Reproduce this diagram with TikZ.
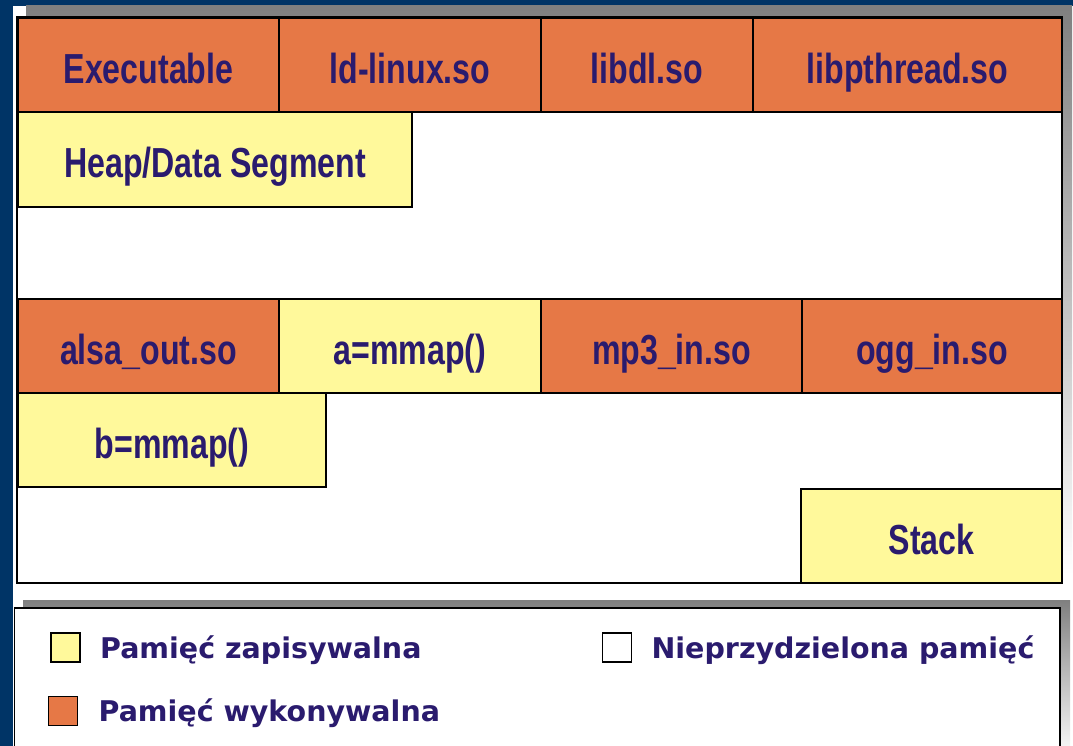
\documentclass[tikz,border=0pt]{standalone}
\usepackage{fontspec}
\usepackage{tikz}
\usetikzlibrary{positioning}

\newfontfamily\boxfont[FakeStretch=0.765]{Liberation Sans}
\newfontfamily\keyfont{DejaVu Sans}

\definecolor{slidebg}{HTML}{003466}
\definecolor{shade}{HTML}{2B2724}
\definecolor{execmem}{HTML}{E67846}
\definecolor{writemem}{HTML}{FFF99B}
\definecolor{labelink}{HTML}{2A1B6E}

\begin{document}
\begin{tikzpicture}[x=1pt, y=-1pt,
    seg/.style={draw=black, line width=2pt, anchor=north west,
        inner sep=0pt, outer sep=0pt, minimum height=94pt,
        text=labelink, text height=37pt, text depth=0pt,
        font=\boxfont\bfseries\fontsize{42}{50}\selectfont},
    execseg/.style={seg, fill=execmem},
    writeseg/.style={seg, fill=writemem},
    keybox/.style={draw=black, line width=1.8pt, minimum size=29pt,
        inner sep=0pt},
    keytext/.style={text=labelink, inner sep=0pt, anchor=west,
        text height=21pt, text depth=0pt,
        font=\keyfont\bfseries\fontsize{28.5}{34}\selectfont}]

        \useasboundingbox (0,0) rectangle (1073,746);
        \clip (0,0) rectangle (1073,746);
        \fill[slidebg] (0,0) rectangle (1073,746);
        \fill[white] (13,6) rectangle (1073,746);

        % address space frame
        \fill[shade] (26,6) rectangle (1072,575);
        \filldraw[fill=white, draw=black, line width=1.5pt]
        (17,17) rectangle (1062,583);

        % program and libraries
        \node[execseg, minimum width=261pt] (exe) at (18,18) {Executable};
        \node[execseg, minimum width=262pt] (ldso) at (exe.north east) {ld-linux.so};
        \node[execseg, minimum width=212pt] (libdl) at (ldso.north east) {libdl.so};
        \node[execseg, minimum width=309pt] (pthread) at (libdl.north east) {libpthread.so};
        \node[writeseg, minimum width=394pt, minimum height=95pt] (heap)
        at (exe.south west) {Heap/Data Segment};

        % plugins and mappings
        \node[execseg, minimum width=261pt] (alsa) at (18,299) {alsa\_out.so};
        \node[writeseg, minimum width=262pt] (mmapa) at (alsa.north east) {a=mmap()};
        \node[execseg, minimum width=261pt] (mpeg) at (mmapa.north east) {mp3\_in.so};
        \node[execseg, minimum width=260pt] (ogg) at (mpeg.north east) {ogg\_in.so};
        \node[writeseg, minimum width=308pt] (mmapb) at (alsa.south west) {b=mmap()};

        \node[writeseg, minimum width=261pt, anchor=south east] (stack)
        at (1062,583) {Stack};

        % legend
        \fill[shade] (23,600) rectangle (1070,760);
        \filldraw[fill=white, draw=black, line width=1.5pt]
        (14.5,608) rectangle (1060,760);

        \node[keybox, fill=writemem] (keyw) at (65.5,647.5) {};
        \node[keytext, right=19pt of keyw] (keywtxt) {Pamięć zapisywalna};

        \node[keybox, fill=execmem] (keyx) at (63,711) {};
        \node[keytext, right=20pt of keyx] (keyxtxt) {Pamięć wykonywalna};

        \node[keybox, fill=white] (keyu) at (617,647.5) {};
        \node[keytext, right=19pt of keyu] (keyutxt) {Nieprzydzielona pamięć};
\end{tikzpicture}
\end{document}
